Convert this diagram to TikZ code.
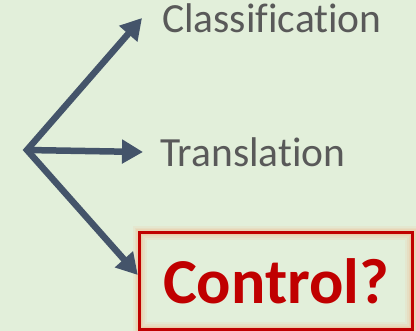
\documentclass[tikz,border=0pt]{standalone}
\usepackage{fontspec}
\setmainfont[Ligatures=NoCommon]{Carlito}
\usetikzlibrary{arrows.meta,calc}
\definecolor{bgreen}{HTML}{E2EFDA}
\definecolor{slate}{HTML}{44546A}
\definecolor{txtgrey}{HTML}{595959}
\definecolor{darkred}{HTML}{C00000}
\definecolor{glowor}{HTML}{F4B183}
\begin{document}
\begin{tikzpicture}[x=1pt,y=-1pt,
  tip/.tip={Triangle[length=21pt,width=23pt]},
  branch/.style={draw=slate, line width=6.5pt, line join=miter},
  label/.style={text=txtgrey, font=\fontsize{41.5}{41.5}\selectfont, inner sep=0pt, anchor=base west},
  ctlbox/.style={minimum width=272pt, minimum height=96pt, inner sep=0pt,
                 text=darkred, font=\bfseries\fontsize{64}{64}\selectfont},
  glowline/.style={draw=glowor, opacity=#1},
  ctlborder/.style={draw=darkred, line width=3pt}]
% page background
\fill[bgreen] (0,0) rectangle (416,331);
\useasboundingbox (0,0) rectangle (416,331);

% branching point and the three targets
\coordinate (o) at (27,150);
\node[label] (cls) at (162,33) {Classification};
\node[label] (trn) at (160,167) {Translation};
\node[ctlbox] (ctl) at (276,281) {Control?};

% soft orange glow around the highlighted box
\foreach \w/\op in {14/0.12, 10/0.15, 7/0.2, 4/0.25}
  \draw[glowline=\op, line width=\w pt] (ctl.north west) rectangle (ctl.south east);
\draw[ctlborder] (ctl.north west) rectangle (ctl.south east);

% arrows fanning out from the branching point
\draw[branch, tip-tip] ($(cls.base west)+(-20,-15)$) -- (o) -- ($(ctl.west)+(-2,-6)$);
\draw[branch, -tip] (o) -- ($(trn.base west)+(-17,-15)$);
\end{tikzpicture}
\end{document}
